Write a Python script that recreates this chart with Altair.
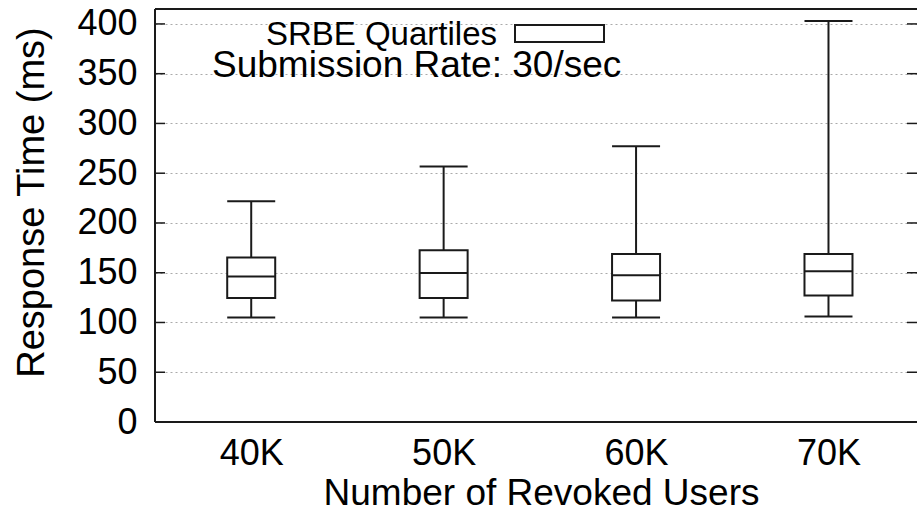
import altair as alt
import pandas as pd

# ---- data ----
users = ["40K", "50K", "60K", "70K"]
positions = [1, 2, 3, 4]
mins = [105.0, 105.0, 105.0, 106.0]
q1s = [124.7, 124.7, 122.0, 127.0]
medians = [146.3, 149.6, 147.4, 151.4]
q3s = [165.4, 172.7, 168.8, 168.8]
maxs = [221.8, 256.7, 277.0, 403.0]
y_ticks = [0, 50, 100, 150, 200, 250, 300, 350, 400]

legend_label = "SRBE Quartiles"
note_label = "Submission Rate: 30/sec"
x_title = "Number of Revoked Users"
y_title = "Response Time (ms)"

df = pd.DataFrame({"users": users, "pos": positions, "lo": mins, "q1": q1s,
                   "med": medians, "q3": q3s, "hi": maxs})
ticks_df = pd.DataFrame({"v": y_ticks})
one = pd.DataFrame({"a": [0]})

W, H = 762, 413
FONT = "Liberation Sans"
LINE = "#1a1a1a"
HALF = 24

label_expr = "[" + ",".join(f"'{u}'" for u in users) + "][datum.value - 1]"

x_scale = alt.Scale(domain=[0.5, 4.46], nice=False, zero=False)
y_scale = alt.Scale(domain=[0, 415], nice=False, zero=True)

x_axis = alt.Axis(values=positions, labelExpr=label_expr, title=x_title,
                  grid=False, ticks=False, tickSize=0, domain=False,
                  labelFont=FONT, labelFontSize=36, labelColor="black",
                  labelPadding=42, labelBaseline="alphabetic",
                  titleFont=FONT, titleFontSize=37, titleFontWeight="normal",
                  titleColor="black", titleY=82, titleX=386,
                  titleBaseline="alphabetic")
y_axis = alt.Axis(values=y_ticks, title=y_title, grid=True, gridColor="#aaaaaa",
                  gridDash=[2, 3], gridWidth=1, ticks=False, tickSize=0,
                  domain=False, labelFont=FONT, labelFontSize=36,
                  labelColor="black", labelPadding=18,
                  titleFont=FONT, titleFontSize=38, titleFontWeight="normal",
                  titleColor="black", titleAngle=270, titleX=-112, titleY=193,
                  titleAlign="center", titleBaseline="alphabetic")


def X(f="pos"):
    return alt.X(f"{f}:Q", scale=x_scale, axis=x_axis)


def Y(f):
    return alt.Y(f"{f}:Q", scale=y_scale, axis=y_axis)


base = alt.Chart(df)

box = base.mark_rect(fill="white", stroke=LINE, strokeWidth=2,
                     xOffset=-HALF, x2Offset=HALF).encode(
    x=X(), x2="pos", y=Y("q1"), y2="q3")
whisk_lo = base.mark_rule(color=LINE, strokeWidth=2).encode(x=X(), y=Y("lo"), y2="q1")
whisk_hi = base.mark_rule(color=LINE, strokeWidth=2).encode(x=X(), y=Y("q3"), y2="hi")
cap_lo = base.mark_rule(color=LINE, strokeWidth=2, xOffset=-HALF, x2Offset=HALF).encode(
    x=X(), x2="pos", y=Y("lo"))
cap_hi = base.mark_rule(color=LINE, strokeWidth=2, xOffset=-HALF, x2Offset=HALF).encode(
    x=X(), x2="pos", y=Y("hi"))
med = base.mark_rule(color=LINE, strokeWidth=2, xOffset=-HALF, x2Offset=HALF).encode(
    x=X(), x2="pos", y=Y("med"))

tick_l = alt.Chart(ticks_df).mark_rule(color=LINE, strokeWidth=1.5).encode(
    y=Y("v"), x=alt.value(0), x2=alt.value(10))
tick_r = alt.Chart(ticks_df).mark_rule(color=LINE, strokeWidth=1.5).encode(
    y=Y("v"), x=alt.value(W - 10), x2=alt.value(W))

frame_top = alt.Chart(one).mark_rule(color=LINE, strokeWidth=2).encode(
    x=alt.value(0), x2=alt.value(W), y=alt.value(0))
frame_bot = alt.Chart(one).mark_rule(color=LINE, strokeWidth=2).encode(
    x=alt.value(0), x2=alt.value(W), y=alt.value(H))
frame_left = alt.Chart(one).mark_rule(color=LINE, strokeWidth=2).encode(
    x=alt.value(0), y=alt.value(0), y2=alt.value(H))

leg_text = alt.Chart(one).mark_text(align="right", baseline="alphabetic",
                                    font=FONT, fontSize=33, color="black").encode(
    x=alt.value(342), y=alt.value(36), text=alt.value(legend_label))
leg_box = alt.Chart(one).mark_rect(fill="white", stroke=LINE, strokeWidth=2).encode(
    x=alt.value(360), x2=alt.value(449), y=alt.value(16), y2=alt.value(33))
note = alt.Chart(one).mark_text(align="left", baseline="alphabetic",
                                font=FONT, fontSize=37, color="black").encode(
    x=alt.value(57), y=alt.value(68), text=alt.value(note_label))

chart = alt.layer(
    box, whisk_lo, whisk_hi, cap_lo, cap_hi, med,
    tick_l, tick_r, frame_top, frame_bot, frame_left,
    leg_text, leg_box, note,
).properties(
    width=W, height=H,
    padding={"left": 155, "top": 9, "right": 0, "bottom": 92},
    autosize=alt.AutoSizeParams(type="none"),
    background="white",
).configure_view(stroke=None)

chart.save("out.html", embed_options={"renderer": "svg", "actions": False})
